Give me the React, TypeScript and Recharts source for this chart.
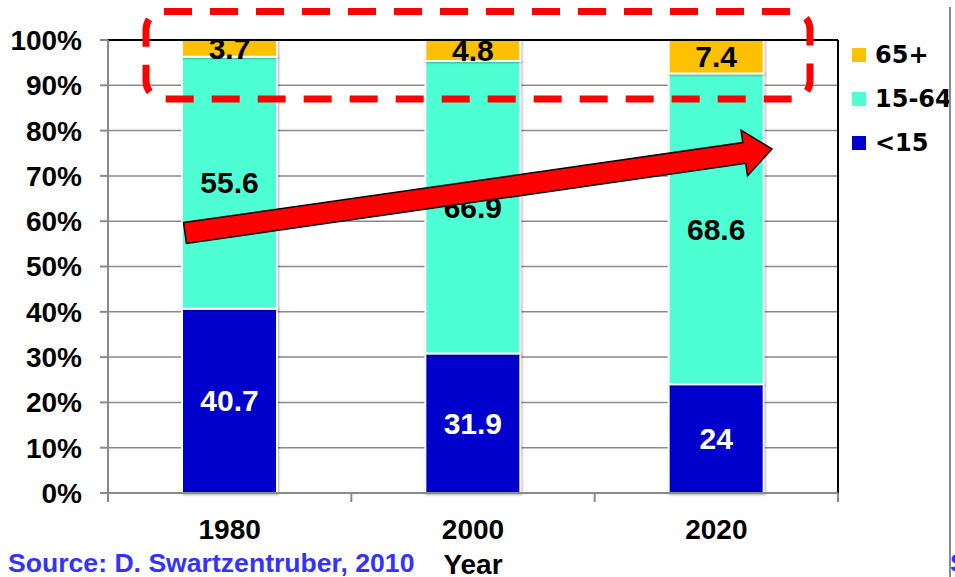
import * as R from "recharts"
import {
  Bar,
  BarChart,
  CartesianGrid,
  Customized,
  LabelList,
  Legend,
  ReferenceLine,
  XAxis,
  YAxis,
} from "recharts"

const years = ["1980", "2000", "2020"]
const under15 = [40.7, 31.9, 24]
const age15to64 = [55.6, 66.9, 68.6]
const over65 = [3.7, 4.8, 7.4]
const yTicks = [0, 0.1, 0.2, 0.3, 0.4, 0.5, 0.6, 0.7, 0.8, 0.9, 1]

const series = [
  { key: "young", name: "<15", color: "#0000CC", label: "#ffffff" },
  { key: "mid", name: "15-64", color: "#4DFFD2", label: "#000000" },
  { key: "old", name: "65+", color: "#FFC000", label: "#000000" },
]

const data = years.map((year, i) => ({
  year,
  young: under15[i],
  mid: age15to64[i],
  old: over65[i],
}))

const FONT = "'Liberation Sans', Arial, sans-serif"
const W = 955
const H = 577

const usePlotAreaHook = (R as any).usePlotArea as undefined | (() => any)

function FrameMarks() {
  const area = usePlotAreaHook ? usePlotAreaHook() : null
  const x = area?.x ?? 108
  const y = area?.y ?? 40
  const w = area?.width ?? 730
  const h = area?.height ?? 453
  const bounds = years.map((_, i) => x + (w * i) / years.length).concat(x + w)
  return (
    <g>
      {bounds.map((bx, i) => (
        <line key={i} x1={bx} x2={bx} y1={y + h} y2={y + h + 9} stroke="#8a8a8a" strokeWidth={2} />
      ))}
      <line x1={x + w} x2={x + w} y1={y} y2={y + h} stroke="#000" strokeWidth={2} />
    </g>
  )
}

const renderLegend = () => (
  <div style={{ fontFamily: "'DejaVu Sans', Verdana, sans-serif", fontWeight: 700, fontSize: 24 }}>
    {[...series].reverse().map((s) => (
      <div key={s.key} style={{ height: 44, display: "flex", alignItems: "center", whiteSpace: "nowrap" }}>
        <span style={{ width: 14, height: 14, background: s.color, display: "inline-block", marginRight: 9 }} />
        <span style={{ color: "#000" }}>{s.name}</span>
      </div>
    ))}
  </div>
)

// arrow drawn as a shape on top of the chart
const tail = [185, 233]
const tip = [772, 149]
function arrowPoints() {
  const dx = tip[0] - tail[0]
  const dy = tip[1] - tail[1]
  const len = Math.hypot(dx, dy)
  const ux = dx / len
  const uy = dy / len
  const nx = -uy
  const ny = ux
  const headLen = 28
  const headHalf = 23
  const shaftHalf = 10.5
  const bx = tip[0] - headLen * ux
  const by = tip[1] - headLen * uy
  const pts = [
    [tail[0] - shaftHalf * nx, tail[1] - shaftHalf * ny],
    [bx - shaftHalf * nx, by - shaftHalf * ny],
    [bx - headHalf * nx, by - headHalf * ny],
    tip,
    [bx + headHalf * nx, by + headHalf * ny],
    [bx + shaftHalf * nx, by + shaftHalf * ny],
    [tail[0] + shaftHalf * nx, tail[1] + shaftHalf * ny],
  ]
  return pts.map((p) => p.join(",")).join(" ")
}

export default function App() {
  return (
    <div
      style={{
        position: "absolute",
        left: 0,
        top: 0,
        width: W,
        height: H,
        overflow: "hidden",
        background: "#fff",
        fontFamily: FONT,
      }}
    >
      <BarChart
        width={W}
        height={H}
        data={data}
        stackOffset="expand"
        margin={{ top: 40, right: 12, bottom: 0, left: 0 }}
      >
        <CartesianGrid vertical={false} stroke="#8a8a8a" strokeWidth={1.5} />
        <XAxis
          dataKey="year"
          height={84}
          tickLine={false}
          tickSize={0}
          tickMargin={26}
          axisLine={{ stroke: "#8a8a8a", strokeWidth: 2 }}
          tick={{ fill: "#000", fontSize: 28, fontWeight: 700, fontFamily: FONT }}
          label={{
            value: "Year",
            position: "insideBottom",
            offset: 3,
            fill: "#000",
            fontSize: 28,
            fontWeight: 700,
            fontFamily: FONT,
          }}
        />
        <YAxis
          width={108}
          domain={[0, 1]}
          ticks={yTicks}
          tickSize={8}
          tickMargin={18}
          interval={0}
          tickFormatter={(v: number) => `${Math.round(v * 100)}%`}
          tickLine={{ stroke: "#8a8a8a", strokeWidth: 2 }}
          axisLine={{ stroke: "#8a8a8a", strokeWidth: 2 }}
          tick={{ fill: "#000", fontSize: 28, fontWeight: 700, fontFamily: FONT }}
        />
        <ReferenceLine y={1} stroke="#000" strokeWidth={2} />
        <Legend
          layout="vertical"
          align="right"
          verticalAlign="top"
          content={renderLegend}
          wrapperStyle={{ left: 852, top: 33, width: 105 }}
        />
        {series.map((s) => (
          <Bar
            key={s.key}
            dataKey={s.key}
            name={s.name}
            stackId="a"
            fill={s.color}
            stroke="#ffffff"
            strokeWidth={2}
            barSize={95}
            isAnimationActive={false}
            style={{ filter: "drop-shadow(1px 1px 1px rgba(0,0,0,0.3))" }}
          >
            <LabelList
              dataKey={s.key}
              position="center"
              fill={s.label}
              fontSize={30}
              fontWeight={700}
              fontFamily={FONT}
            />
          </Bar>
        ))}
        <Customized component={<FrameMarks />} />
      </BarChart>
      <svg
        width={W}
        height={H}
        style={{ position: "absolute", left: 0, top: 0, pointerEvents: "none" }}
      >
        <rect
          x={146}
          y={11.5}
          width={664}
          height={87.5}
          rx={18}
          ry={18}
          fill="none"
          stroke="#FF0000"
          strokeWidth={7}
          strokeDasharray="28 18"
        />
        <polygon points={arrowPoints()} fill="#FF0000" stroke="#000" strokeWidth={1.5} />
        <line x1={950} x2={950} y1={7} y2={H} stroke="#8a8a8a" strokeWidth={2} />
        <text x={8} y={572} fill="#3333FF" fontSize={26.6} fontWeight={700} fontFamily={FONT}>
          Source: D. Swartzentruber, 2010
        </text>
        <text x={950} y={572} fill="#3333FF" fontSize={26.6} fontWeight={700} fontFamily={FONT}>
          Source
        </text>
      </svg>
    </div>
  )
}
